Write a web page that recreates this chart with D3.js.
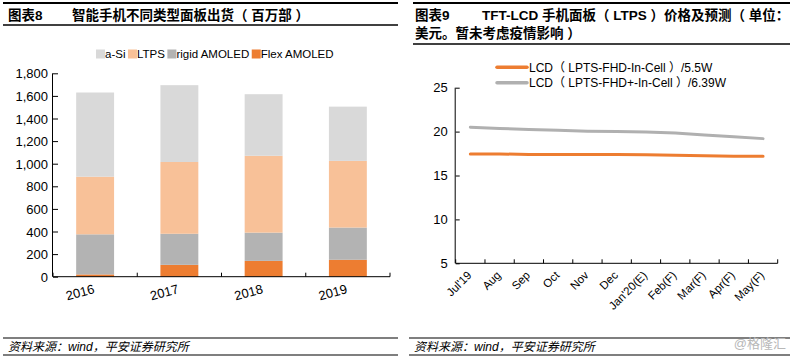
<!DOCTYPE html>
<html>
<head>
<meta charset="utf-8">
<script src="https://cdnjs.cloudflare.com/ajax/libs/d3/7.8.5/d3.min.js"></script>
<style>
  html, body { margin: 0; padding: 0; background: #fff; }
  svg { display: block; }
  text { font-family: "Liberation Sans", Arial, "Noto Sans CJK SC", sans-serif; }
</style>
</head>
<body>
<svg id="c" width="793" height="358"></svg>
<script>
// ---------- data ----------
const years = ["2016", "2017", "2018", "2019"];
const seriesNames = ["a-Si", "LTPS", "rigid AMOLED", "Flex AMOLED"];
const flexAmoled = [20, 105, 140, 150];
const rigidAmoled = [355, 275, 250, 285];
const ltps = [510, 635, 680, 590];
const aSi = [745, 680, 545, 480];
const leftTicks = [0, 200, 400, 600, 800, 1000, 1200, 1400, 1600, 1800];

const months = ["Jul'19", "Aug", "Sep", "Oct", "Nov", "Dec", "Jan'20(E)", "Feb(F)", "Mar(F)", "Apr(F)", "May(F)"];
const lcd55 = [17.45, 17.45, 17.4, 17.4, 17.4, 17.4, 17.35, 17.3, 17.25, 17.2, 17.2];
const lcd639 = [20.5, 20.35, 20.25, 20.15, 20.05, 20.0, 19.95, 19.85, 19.6, 19.4, 19.2];
const lineNames = ["LCD（ LPTS-FHD-In-Cell ）/5.5W", "LCD（ LPTS-FHD+-In-Cell ）/6.39W"];
const rightTicks = [5, 10, 15, 20, 25];

// ---------- styles ----------
const barColors = ["#d9d9d9", "#f8c198", "#b3b3b3", "#ed7d31"];
const lineColors = ["#ed7d31", "#b0b0b0"];
const cjk = '"Liberation Sans", Arial, "Noto Sans CJK SC", sans-serif';

const svg = d3.select("#c");

// ---------- headers ----------
function header(x0, x1, yTop, yBot, lines) {
  svg.append("line").attr("x1", x0).attr("x2", x1).attr("y1", yTop).attr("y2", yTop)
    .attr("stroke", "#000").attr("stroke-width", 2);
  svg.append("line").attr("x1", x0).attr("x2", x1).attr("y1", yBot).attr("y2", yBot)
    .attr("stroke", "#000").attr("stroke-width", 1.5);
  lines.forEach(l => {
    svg.append("text").attr("x", l.x).attr("y", l.y).text(l.t)
      .attr("font-size", 13.5).attr("font-weight", "bold").attr("fill", "#000")
      .style("font-family", cjk);
  });
}
header(3, 398, 3, 25, [
  {x: 8, y: 19.5, t: "图表8"},
  {x: 72, y: 19.5, t: "智能手机不同类型面板出货（ 百万部 ）"}
]);
header(413, 790, 3, 44, [
  {x: 415, y: 19.5, t: "图表9"},
  {x: 482, y: 19.5, t: "TFT-LCD 手机面板（ LTPS ）价格及预测（ 单位："},
  {x: 415, y: 37.5, t: "美元。暂未考虑疫情影响 ）"}
]);

// ---------- footers ----------
function footer(x0, x1) {
  svg.append("line").attr("x1", x0).attr("x2", x1).attr("y1", 338).attr("y2", 338)
    .attr("stroke", "#000").attr("stroke-width", 1.2);
  svg.append("line").attr("x1", x0).attr("x2", x1).attr("y1", 355).attr("y2", 355)
    .attr("stroke", "#000").attr("stroke-width", 1.2);
  svg.append("text").attr("x", x0 + 5).attr("y", 351).text("资料来源：wind，平安证券研究所")
    .attr("font-size", 12).attr("font-style", "italic").attr("fill", "#000");
}
footer(3, 398);
footer(409, 790);
svg.append("text").attr("x", 786).attr("y", 348).attr("text-anchor", "end")
  .text("@格隆汇").attr("font-size", 13).attr("fill", "#b8b8b8");

// ---------- left chart: stacked bars ----------
(function() {
  const x0 = 53, x1 = 390, yTop = 73.3, yBot = 276.7;
  const x = d3.scaleBand().domain(years).range([x0, x1]).paddingInner(0.55).paddingOuter(0.275);
  const y = d3.scaleLinear().domain([0, 1800]).range([yBot, yTop]);
  const table = years.map((yr, i) => ({
    year: yr,
    "a-Si": aSi[i], "LTPS": ltps[i], "rigid AMOLED": rigidAmoled[i], "Flex AMOLED": flexAmoled[i]
  }));
  const stackOrder = ["Flex AMOLED", "rigid AMOLED", "LTPS", "a-Si"];
  const stacked = d3.stack().keys(stackOrder)(table);
  const g = svg.append("g");
  stacked.forEach(s => {
    const col = barColors[seriesNames.indexOf(s.key)];
    g.selectAll(null).data(s).enter().append("rect")
      .attr("x", d => x(d.data.year))
      .attr("width", x.bandwidth())
      .attr("y", d => y(d[1]))
      .attr("height", d => y(d[0]) - y(d[1]))
      .attr("fill", col);
  });
  // y axis
  const ya = svg.append("g").attr("transform", `translate(${x0},0)`)
    .call(d3.axisLeft(y).tickValues(leftTicks).tickSize(-5).tickPadding(5).tickFormat(d3.format(",")));
  ya.select(".domain").attr("stroke", "#000").attr("d", `M-0.5,${yTop}V${yBot}`);
  ya.selectAll("line").attr("stroke", "#000");
  ya.selectAll("text").attr("font-size", 13).attr("fill", "#000").attr("dx", 0).attr("dy", "0.35em")
    .style("font-family", cjk);
  // x axis
  const xa = svg.append("g");
  xa.append("line").attr("x1", x0).attr("x2", x1).attr("y1", yBot).attr("y2", yBot).attr("stroke", "#000");
  const step = x.step();
  d3.range(years.length + 1).forEach(i => {
    const xx = x0 + i * step;
    xa.append("line").attr("x1", xx).attr("x2", xx).attr("y1", yBot - 4).attr("y2", yBot).attr("stroke", "#000");
  });
  years.forEach(yr => {
    const cx = x(yr) + x.bandwidth() / 2;
    xa.append("text").attr("transform", `translate(${cx},${293}) rotate(-15)`)
      .attr("text-anchor", "end").attr("font-size", 13).attr("fill", "#000").text(yr);
  });
  // legend
  const lg = svg.append("g");
  let lx = 96;
  seriesNames.forEach((n, i) => {
    lg.append("rect").attr("x", lx).attr("y", 49.5).attr("width", 9).attr("height", 9).attr("fill", barColors[i]);
    const t = lg.append("text").attr("x", lx + 9).attr("y", 58).attr("font-size", 11.5).attr("fill", "#000").text(n);
    lx += 9 + t.node().getComputedTextLength() + 2.5;
  });
})();

// ---------- right chart: lines ----------
(function() {
  const x0 = 455.7, x1 = 777.7, yTop = 87.7, yBot = 263.3;
  const x = d3.scaleBand().domain(months).range([x0, x1]).padding(0);
  const y = d3.scaleLinear().domain([5, 25]).range([yBot, yTop]);
  const cx = m => x(m) + x.bandwidth() / 2;
  const line = d3.line().x((d, i) => cx(months[i])).y(d => y(d));
  [lcd639, lcd55].forEach((s, k) => {
    const col = k === 0 ? lineColors[1] : lineColors[0];
    svg.append("path").attr("d", line(s)).attr("fill", "none")
      .attr("stroke", col).attr("stroke-width", 3).attr("stroke-linecap", "round");
  });
  const ya = svg.append("g").attr("transform", `translate(${x0},0)`)
    .call(d3.axisLeft(y).tickValues(rightTicks).tickSize(-4).tickPadding(8));
  ya.select(".domain").attr("stroke", "#000").attr("d", `M-0.5,${yTop}V${yBot}`);
  ya.selectAll("line").attr("stroke", "#000");
  ya.selectAll("text").attr("font-size", 13).attr("fill", "#000").style("font-family", cjk);
  const xa = svg.append("g");
  xa.append("line").attr("x1", x0).attr("x2", x1).attr("y1", yBot).attr("y2", yBot).attr("stroke", "#000");
  d3.range(months.length + 1).forEach(i => {
    const xx = x0 + i * x.step();
    xa.append("line").attr("x1", xx).attr("x2", xx).attr("y1", yBot - 4).attr("y2", yBot).attr("stroke", "#000");
  });
  months.forEach(m => {
    xa.append("text").attr("transform", `translate(${cx(m) + 2},${276}) rotate(-45)`)
      .attr("text-anchor", "end").attr("font-size", 11.5).attr("fill", "#000").text(m);
  });
  // legend
  const lg = svg.append("g");
  lineNames.forEach((n, i) => {
    const yy = 67.3 + i * 15.4;
    lg.append("line").attr("x1", 497).attr("x2", 527).attr("y1", yy).attr("y2", yy)
      .attr("stroke", lineColors[i]).attr("stroke-width", 3.5).attr("stroke-linecap", "round");
    lg.append("text").attr("x", 529).attr("y", yy + 4.3).attr("font-size", 12).attr("fill", "#000")
      .style("font-family", cjk).text(n);
  });
})();
</script>
</body>
</html>
